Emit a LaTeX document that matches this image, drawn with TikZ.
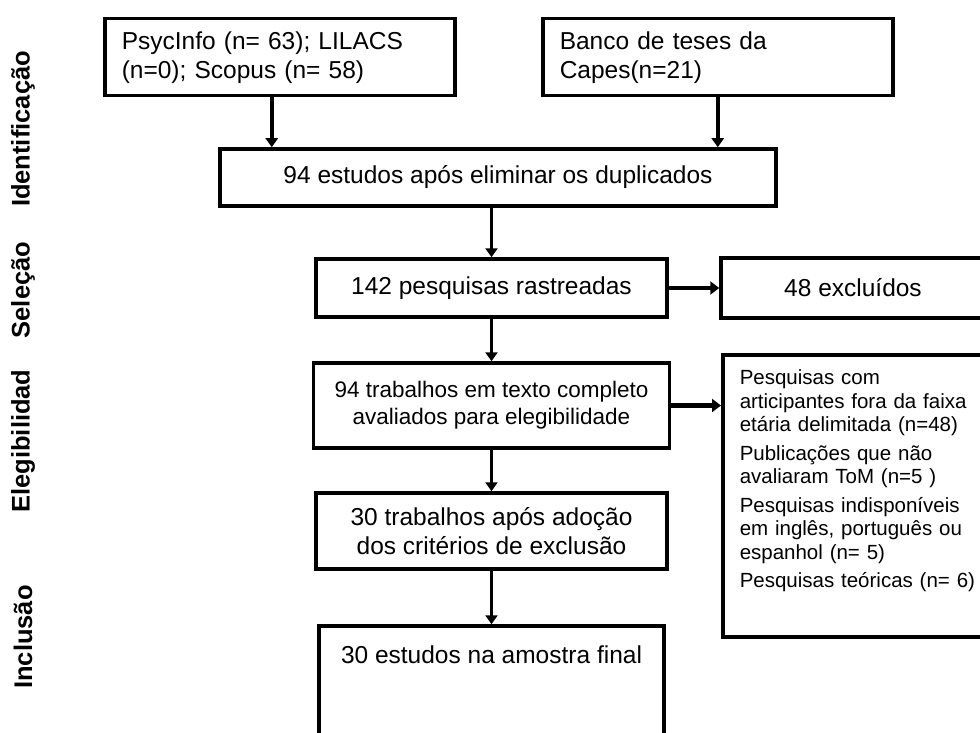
\documentclass[tikz,border=0pt]{standalone}
\usepackage{fontspec}
\setmainfont{Liberation Sans}
\usetikzlibrary{arrows.meta,positioning}

\begin{document}
\begin{tikzpicture}[
    x=1pt, y=-1pt,
    every node/.style={font=\fontsize{24.5}{29}\selectfont},
    caixa/.style={draw, line width=3.5pt, inner sep=0pt, align=center},
    fase/.style={rotate=90, font=\fontsize{25.5}{30}\selectfont\bfseries},
    arr/.style={-{Triangle[length=9pt,width=12pt]}, line width=3.5pt},
    harr/.style={-{Triangle[length=9pt,width=13pt]}, line width=4.5pt}
]
\useasboundingbox (0,0) rectangle (980,733);
\clip (0,0) rectangle (980,733);
\node[fase] (ident) at (23,129) {Identificação};
\node[fase] (selec) at (23,290) {Seleção};
\node[fase] (eleg)  at (23,441) {Elegibilidad};
\node[fase] (incl)  at (23,637) {Inclusão};
\node[caixa, anchor=north west, align=left, text width=316pt, inner xsep=17pt, minimum height=77pt] (psyc) at (103,17) {PsycInfo (n= 63); LILACS\\(n=0); Scopus (n= 58)};
\node[caixa, align=left, text width=316pt, inner xsep=17pt, minimum height=77pt, right=84.5pt of psyc] (capes) {Banco de teses da\\Capes(n=21)};
\node[caixa, minimum width=556pt, minimum height=57pt] (dup) at (498,177.5) {94 estudos após eliminar os duplicados};
\node[caixa, minimum width=351pt, minimum height=58pt] (rast) at (491.5,288) {142 pesquisas rastreadas};
\node[caixa, minimum width=264pt, minimum height=60pt, right=50.5pt of rast] (excl) {48 excluídos};
\node[caixa, minimum width=356pt, minimum height=85pt, below=42.5pt of rast, font=\fontsize{22.5}{27}\selectfont] (elig) {94 trabalhos em texto completo\\avaliados para elegibilidade};
\node[caixa, anchor=north west, align=left, text width=245pt, inner xsep=17pt, inner ysep=8pt, text height=22pt, text depth=244pt, font=\fontsize{20.5}{23.5}\selectfont] (motivos) at (721,353) {Pesquisas com\\articipantes fora da faixa\\etária delimitada (n=48)\\[5pt]Publicações que não\\avaliaram ToM (n=5 )\\[5pt]Pesquisas indisponíveis\\em inglês, português ou\\espanhol (n= 5)\\[5pt]Pesquisas teóricas (n= 6)};
\node[caixa, minimum width=351pt, minimum height=76pt, below=41.5pt of elig] (adoc) {30 trabalhos após adoção\\dos critérios de exclusão};
\node[caixa, minimum width=345pt, text height=28pt, text depth=100pt, inner ysep=9pt, below=53.5pt of adoc] (final) {30 estudos na amostra final};
\draw[arr] ([xshift=-8pt]psyc.south) -- ([xshift=-8pt]psyc.south |- dup.north);
\draw[arr] (capes.south) -- (capes.south |- dup.north);
\draw[arr] (dup.south -| elig) -- (rast.north -| elig);
\draw[arr] (rast.south -| elig) -- (elig.north);
\draw[arr] (elig.south) -- (elig.south |- adoc.north);
\draw[arr] (adoc.south -| elig) -- (final.north -| elig);
\draw[harr] (rast) -- (excl);
\draw[harr] (elig) -- (elig -| motivos.west);
\end{tikzpicture}
\end{document}
